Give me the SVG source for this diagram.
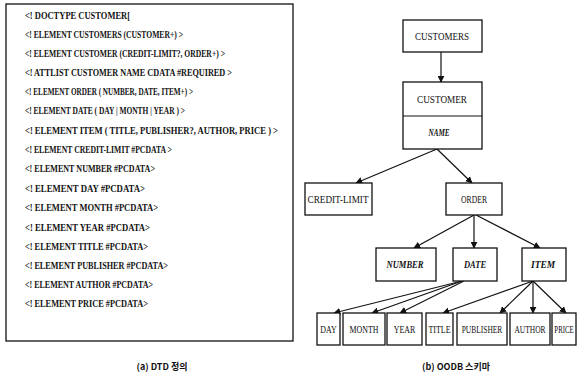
<svg xmlns="http://www.w3.org/2000/svg" width="578" height="372" viewBox="0 0 578 372">
<defs>
<style>
.dtd{font-family:"Liberation Serif",serif;font-size:9.5px;font-weight:bold;fill:#111}
.lbl{font-family:"Liberation Serif",serif;font-size:11px;fill:#111;text-anchor:middle}
.it{font-style:italic;font-weight:bold}
.box{fill:#fff;stroke:#111;stroke-width:1.3}
.cap{font-family:"Noto Sans CJK KR","Liberation Sans",sans-serif;font-size:9px;font-weight:bold;fill:#111;text-anchor:middle}
.con{stroke:#111;stroke-width:1.2;fill:none;marker-end:url(#ah)}
</style>
<marker id="ah" viewBox="0 0 10 10" refX="9" refY="5" markerWidth="7" markerHeight="7" orient="auto" markerUnits="userSpaceOnUse">
<path d="M0,0 L10,5 L0,10 z" fill="#111"/>
</marker>
</defs>
<rect width="578" height="372" fill="#fff"/>

<g id="dtd-panel">
<rect x="6" y="4" width="287" height="337" fill="none" stroke="#111" stroke-width="1.3"/>
<text class="dtd" x="25" y="19" textLength="105" lengthAdjust="spacingAndGlyphs">&lt;! DOCTYPE CUSTOMER[</text>
<text class="dtd" x="25" y="38" textLength="158" lengthAdjust="spacingAndGlyphs">&lt;! ELEMENT CUSTOMERS (CUSTOMER+) &gt;</text>
<text class="dtd" x="25" y="57" textLength="200" lengthAdjust="spacingAndGlyphs">&lt;! ELEMENT CUSTOMER (CREDIT-LIMIT?, ORDER+) &gt;</text>
<text class="dtd" x="25" y="76" textLength="207" lengthAdjust="spacingAndGlyphs">&lt;! ATTLIST CUSTOMER NAME CDATA #REQUIRED &gt;</text>
<text class="dtd" x="25" y="95" textLength="168" lengthAdjust="spacingAndGlyphs">&lt;! ELEMENT ORDER ( NUMBER, DATE, ITEM+) &gt;</text>
<text class="dtd" x="25" y="114" textLength="160" lengthAdjust="spacingAndGlyphs">&lt;! ELEMENT DATE ( DAY | MONTH | YEAR ) &gt;</text>
<text class="dtd" x="25" y="134" textLength="253" lengthAdjust="spacingAndGlyphs">&lt;! ELEMENT ITEM ( TITLE, PUBLISHER?, AUTHOR, PRICE ) &gt;</text>
<text class="dtd" x="25" y="153" textLength="147" lengthAdjust="spacingAndGlyphs">&lt;! ELEMENT CREDIT-LIMIT #PCDATA &gt;</text>
<text class="dtd" x="25" y="172" textLength="130" lengthAdjust="spacingAndGlyphs">&lt;! ELEMENT NUMBER #PCDATA&gt;</text>
<text class="dtd" x="25" y="192" textLength="120" lengthAdjust="spacingAndGlyphs">&lt;! ELEMENT DAY #PCDATA&gt;</text>
<text class="dtd" x="25" y="211" textLength="133" lengthAdjust="spacingAndGlyphs">&lt;! ELEMENT MONTH #PCDATA&gt;</text>
<text class="dtd" x="25" y="231" textLength="125" lengthAdjust="spacingAndGlyphs">&lt;! ELEMENT YEAR #PCDATA&gt;</text>
<text class="dtd" x="25" y="250" textLength="123" lengthAdjust="spacingAndGlyphs">&lt;! ELEMENT TITLE #PCDATA&gt;</text>
<text class="dtd" x="25" y="269" textLength="143" lengthAdjust="spacingAndGlyphs">&lt;! ELEMENT PUBLISHER #PCDATA&gt;</text>
<text class="dtd" x="25" y="288" textLength="128" lengthAdjust="spacingAndGlyphs">&lt;! ELEMENT AUTHOR #PCDATA&gt;</text>
<text class="dtd" x="25" y="307" textLength="123" lengthAdjust="spacingAndGlyphs">&lt;! ELEMENT PRICE #PCDATA&gt;</text>
<text class="cap" x="162" y="370">(a) DTD 정의</text>
</g>

<g id="connectors">
<line class="con" x1="441" y1="52" x2="441" y2="82"/>
<line class="con" x1="437" y1="149" x2="356" y2="183"/>
<line class="con" x1="437" y1="149" x2="472" y2="183"/>
<line class="con" x1="474" y1="215" x2="414" y2="248"/>
<line class="con" x1="474" y1="215" x2="474" y2="248"/>
<line class="con" x1="476" y1="215" x2="540" y2="248"/>
<line class="con" x1="462" y1="281" x2="334" y2="313"/>
<line class="con" x1="462" y1="281" x2="372" y2="313"/>
<line class="con" x1="464" y1="281" x2="400" y2="313"/>
<line class="con" x1="533" y1="281" x2="443" y2="313"/>
<line class="con" x1="533" y1="281" x2="500" y2="313"/>
<line class="con" x1="533" y1="281" x2="533" y2="313"/>
<line class="con" x1="533" y1="281" x2="566" y2="313"/>
</g>

<g id="n-customers"><rect class="box" x="403" y="20" width="79" height="32"/><text class="lbl" x="442" y="40" textLength="54" lengthAdjust="spacingAndGlyphs">CUSTOMERS</text></g>
<g id="n-customer"><rect class="box" x="403" y="82" width="79" height="67"/><line x1="403" y1="116" x2="482" y2="116" stroke="#111" stroke-width="1.2"/><text class="lbl" x="442" y="103" textLength="50" lengthAdjust="spacingAndGlyphs">CUSTOMER</text><text class="lbl it" x="439" y="136" font-size="10" textLength="21" lengthAdjust="spacingAndGlyphs">NAME</text></g>
<g id="n-credit-limit"><rect class="box" x="305" y="183" width="67" height="32"/><text class="lbl" x="338" y="203" textLength="61" lengthAdjust="spacingAndGlyphs">CREDIT-LIMIT</text></g>
<g id="n-order"><rect class="box" x="446" y="183" width="56" height="32"/><text class="lbl" x="474" y="203" textLength="26" lengthAdjust="spacingAndGlyphs">ORDER</text></g>
<g id="n-number"><rect class="box" x="376" y="248" width="60" height="33"/><text class="lbl it" x="405" y="268" textLength="37" lengthAdjust="spacingAndGlyphs">NUMBER</text></g>
<g id="n-date"><rect class="box" x="453" y="248" width="44" height="33"/><text class="lbl it" x="475" y="268" textLength="22" lengthAdjust="spacingAndGlyphs">DATE</text></g>
<g id="n-item"><rect class="box" x="522" y="248" width="44" height="33"/><text class="lbl it" x="543" y="268" textLength="24" lengthAdjust="spacingAndGlyphs">ITEM</text></g>
<g id="n-day"><rect class="box" x="317" y="313" width="23" height="32"/><text class="lbl" transform="translate(328.5,333) scale(0.72,1)">DAY</text></g>
<g id="n-month"><rect class="box" x="343" y="313" width="42" height="32"/><text class="lbl" transform="translate(364,333) scale(0.72,1)">MONTH</text></g>
<g id="n-year"><rect class="box" x="387" y="313" width="35" height="32"/><text class="lbl" transform="translate(404.5,333) scale(0.72,1)">YEAR</text></g>
<g id="n-title"><rect class="box" x="426" y="313" width="27" height="32"/><text class="lbl" transform="translate(439.5,333) scale(0.72,1)">TITLE</text></g>
<g id="n-publisher"><rect class="box" x="457" y="313" width="50" height="32"/><text class="lbl" transform="translate(482,333) scale(0.68,1)">PUBLISHER</text></g>
<g id="n-author"><rect class="box" x="510" y="313" width="40" height="32"/><text class="lbl" transform="translate(530,333) scale(0.68,1)">AUTHOR</text></g>
<g id="n-price"><rect class="box" x="552" y="313" width="24" height="32"/><text class="lbl" transform="translate(564,333) scale(0.62,1)">PRICE</text></g>

<text class="cap" x="456" y="370">(b) OODB 스키마</text>
</svg>
